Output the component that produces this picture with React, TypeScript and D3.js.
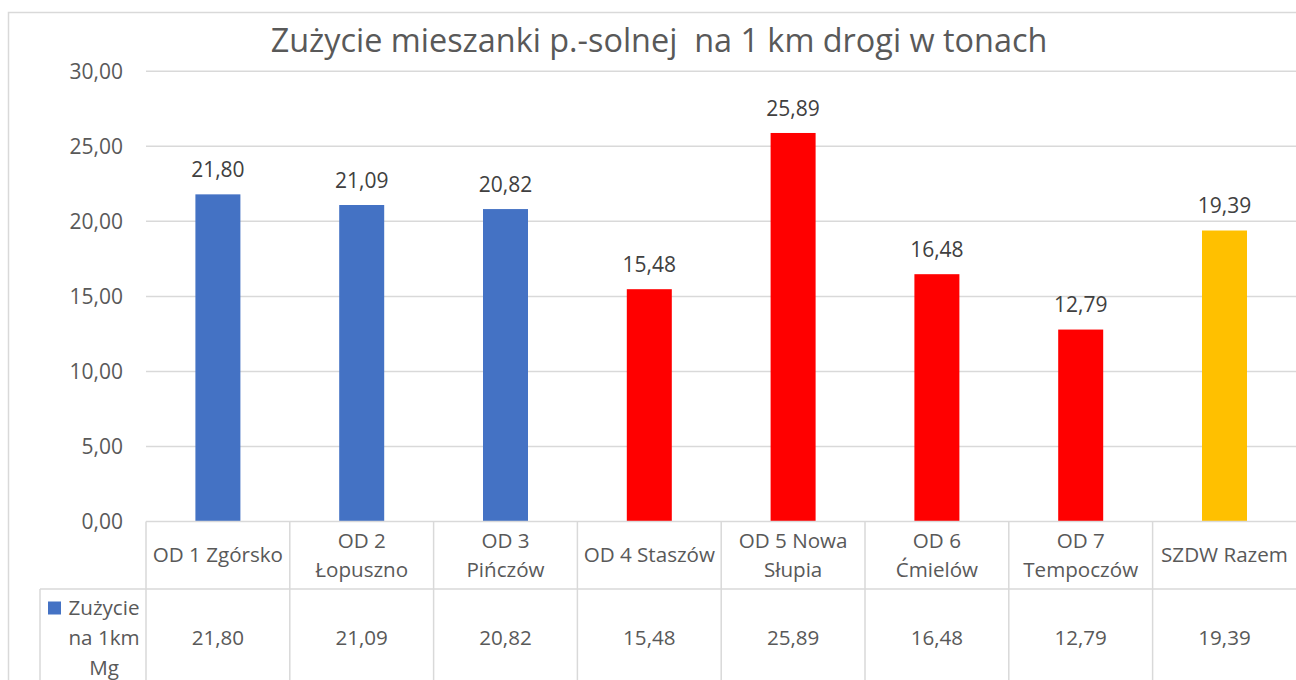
import React from "react";
import * as d3 from "d3";

const categories = [
  ["OD 1 Zgórsko"],
  ["OD 2", "Łopuszno"],
  ["OD 3", "Pińczów"],
  ["OD 4 Staszów"],
  ["OD 5 Nowa", "Słupia"],
  ["OD 6", "Ćmielów"],
  ["OD 7", "Tempoczów"],
  ["SZDW Razem"],
];
const values = [21.8, 21.09, 20.82, 15.48, 25.89, 16.48, 12.79, 19.39];
const barColors = ["#4472C4", "#4472C4", "#4472C4", "#FF0000", "#FF0000", "#FF0000", "#FF0000", "#FFC000"];
const yTicks = [0, 5, 10, 15, 20, 25, 30];
const title = "Zużycie mieszanki p.-solnej  na 1 km drogi w tonach";
const legendLines = ["Zużycie", "na 1km", "Mg"];

const fmt = (v: number) => v.toFixed(2).replace(".", ",");
const FONT = "'Open Sans', sans-serif";
const GRID = "#D9D9D9";

export default function App() {
  const W = 1296, H = 680;
  const left = 146, right = 1296.4;
  const x = d3.scaleBand<number>().domain(d3.range(values.length)).range([left, right]).padding(0);
  const y = d3.scaleLinear().domain([0, 30]).range([521.5, 71.3]);
  const step = x.step();
  const bw = 45;
  const axisY = y(0);
  const rowY = 589;
  const tableFs = 20.6;
  return (
    <svg width={W} height={H} style={{ position: "absolute", left: 0, top: 0, background: "#fff" }}>
      <rect x={8.5} y={12.5} width={1320} height={720} fill="#fff" stroke={GRID} strokeWidth={1.5} />
      <text x={659} y={52} textAnchor="middle" fontFamily={FONT} fontSize={32.4} fill="#595959" style={{ whiteSpace: "pre" }}>{title}</text>
      {yTicks.map((t) => (
        <g key={t}>
          {t > 0 && <line x1={left} x2={right} y1={y(t)} y2={y(t)} stroke={GRID} strokeWidth={1.5} />}
          <text x={123} y={y(t)} dy="0.35em" textAnchor="end" fontFamily={FONT} fontSize={21} fill="#595959">{fmt(t)}</text>
        </g>
      ))}
      {values.map((v, i) => {
        const cx = (x(i) as number) + step / 2;
        return (
          <g key={i}>
            <rect x={cx - bw / 2} y={y(v)} width={bw} height={axisY - y(v)} fill={barColors[i]} />
            <text x={cx} y={y(v) - 24.5} dy="0.35em" textAnchor="middle" fontFamily={FONT} fontSize={21} fill="#404040">{fmt(v)}</text>
          </g>
        );
      })}
      {/* table */}
      <line x1={left} x2={right} y1={axisY} y2={axisY} stroke={GRID} strokeWidth={1.5} />
      <line x1={40} x2={right} y1={rowY} y2={rowY} stroke={GRID} strokeWidth={1.5} />
      <line x1={40} x2={40} y1={rowY} y2={H} stroke={GRID} strokeWidth={1.5} />
      {values.map((_, i) => (
        <line key={"v" + i} x1={x(i) as number} x2={x(i) as number} y1={axisY} y2={H} stroke={GRID} strokeWidth={1.5} />
      ))}
      {categories.map((lines, i) => {
        const cx = (x(i) as number) + step / 2;
        const cy = (axisY + rowY) / 2;
        return (
          <text key={"c" + i} textAnchor="middle" fontFamily={FONT} fontSize={tableFs} fill="#595959">
            {lines.map((l, j) => (
              <tspan key={j} x={cx} y={cy + (j - (lines.length - 1) / 2) * 29} dy="0.35em">{l}</tspan>
            ))}
          </text>
        );
      })}
      {values.map((v, i) => (
        <text key={"t" + i} x={(x(i) as number) + step / 2} y={638} dy="0.35em" textAnchor="middle" fontFamily={FONT} fontSize={tableFs} fill="#595959">{fmt(v)}</text>
      ))}
      <rect x={48} y={601.5} width={13} height={13} fill="#4472C4" />
      <text textAnchor="middle" fontFamily={FONT} fontSize={tableFs} fill="#595959">
        {legendLines.map((l, j) => (
          <tspan key={j} x={104} y={608 + j * 30} dy="0.35em">{l}</tspan>
        ))}
      </text>
    </svg>
  );
}
